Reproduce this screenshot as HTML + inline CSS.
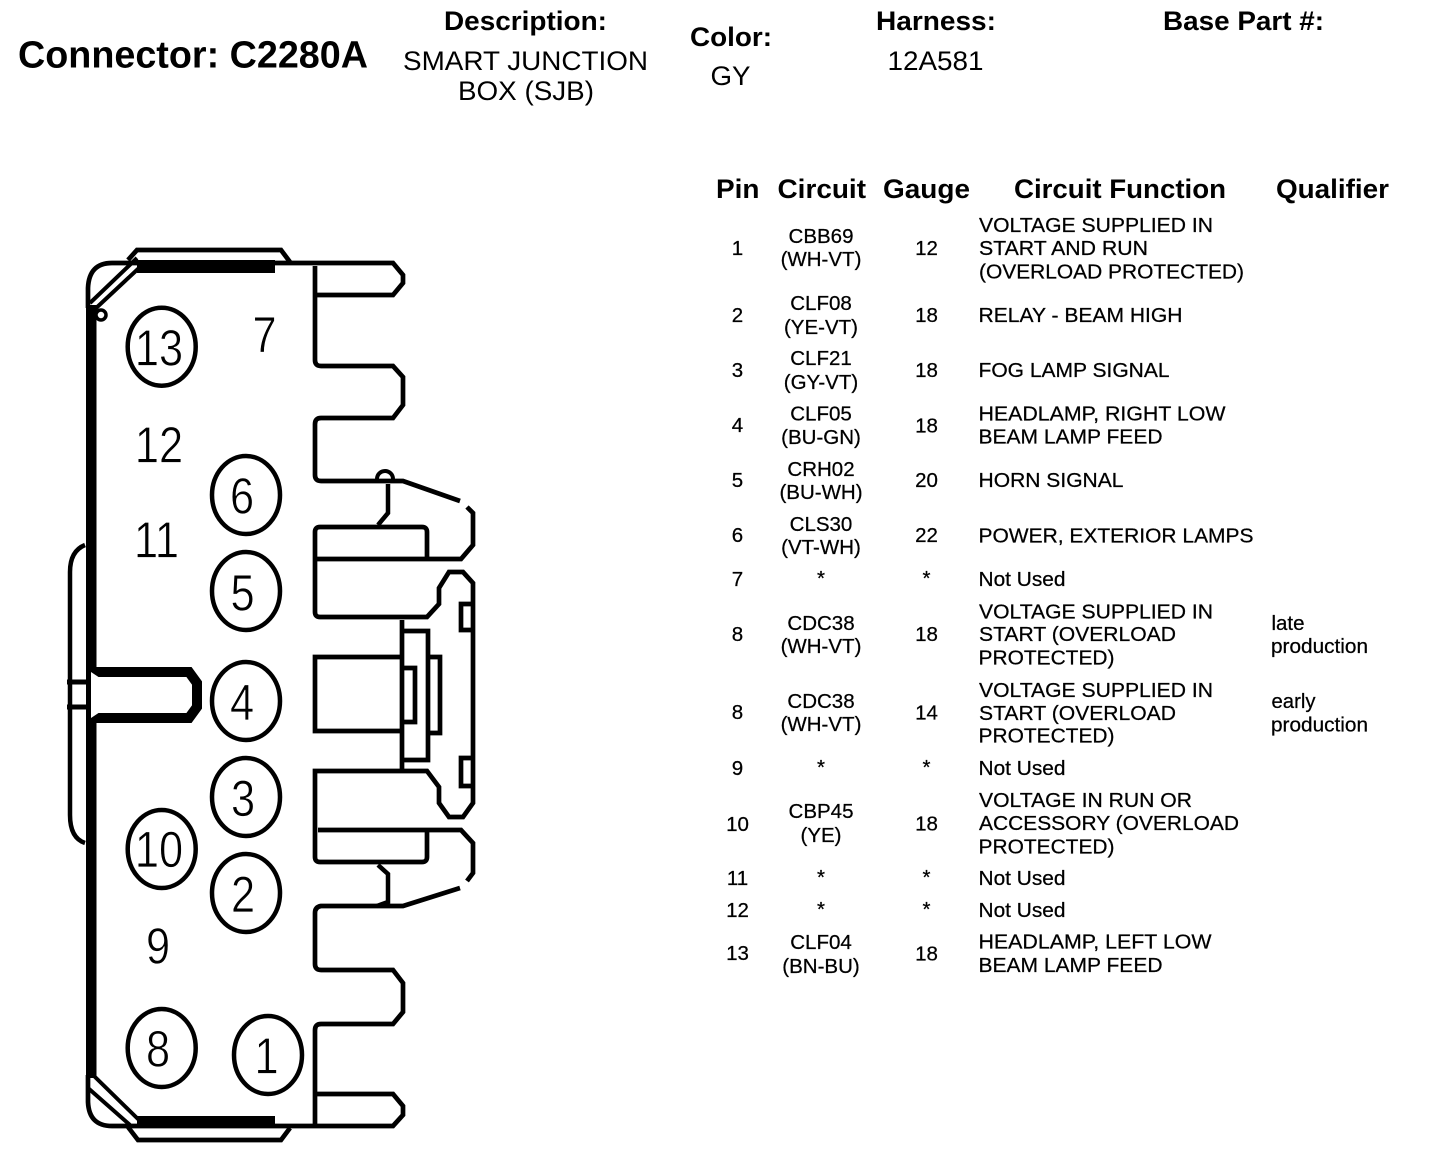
<!DOCTYPE html>
<html lang="en">
<head>
<meta charset="utf-8">
<title>Connector C2280A</title>
<style>
html,body{margin:0;padding:0;background:#fff;width:1440px;height:1158px;overflow:hidden}
svg{display:block}
text{font-family:"Liberation Sans",Arial,sans-serif;fill:#000}
.h{font-weight:700;font-size:27px}
.v{font-size:27px}
.t{font-size:20.5px;stroke:#000;stroke-width:.25px}
.m{text-anchor:middle}
.d{font-size:51px;text-anchor:middle;stroke:#fff;stroke-width:.7px}
.l{fill:none;stroke:#000;stroke-width:4.7;stroke-linejoin:miter}
.c{fill:none;stroke:#000;stroke-width:4.5}
</style>
</head>
<body>
<svg xmlns="http://www.w3.org/2000/svg" width="1440" height="1158" viewBox="0 0 1440 1158">
<rect width="1440" height="1158" fill="#fff"/>

<!-- Header -->
<text x="18" y="67.5" font-size="38" font-weight="700" textLength="350" lengthAdjust="spacingAndGlyphs">Connector: C2280A</text>
<text class="h" x="444" y="30" textLength="163" lengthAdjust="spacingAndGlyphs">Description:</text>
<text class="v" x="403" y="70" textLength="245" lengthAdjust="spacingAndGlyphs">SMART JUNCTION</text>
<text class="v" x="458" y="100" textLength="136" lengthAdjust="spacingAndGlyphs">BOX (SJB)</text>
<text class="h" x="690" y="46" textLength="82" lengthAdjust="spacingAndGlyphs">Color:</text>
<text class="v" x="710.500" y="85" textLength="40" lengthAdjust="spacingAndGlyphs">GY</text>
<text class="h" x="876" y="30" textLength="120" lengthAdjust="spacingAndGlyphs">Harness:</text>
<text class="v" x="887.500" y="70" textLength="96" lengthAdjust="spacingAndGlyphs">12A581</text>
<text class="h" x="1163" y="30" textLength="161" lengthAdjust="spacingAndGlyphs">Base Part #:</text>

<!-- Table header -->
<text class="h" x="716" y="198" textLength="43.500" lengthAdjust="spacingAndGlyphs">Pin</text>
<text class="h" x="777.500" y="198" textLength="88.500" lengthAdjust="spacingAndGlyphs">Circuit</text>
<text class="h" x="883" y="198" textLength="87" lengthAdjust="spacingAndGlyphs">Gauge</text>
<text class="h" x="1014" y="198" textLength="212" lengthAdjust="spacingAndGlyphs">Circuit Function</text>
<text class="h" x="1276" y="198" textLength="113" lengthAdjust="spacingAndGlyphs">Qualifier</text>

<!-- Pin column -->
<text class="t m" x="737.500" y="255">1</text>
<text class="t m" x="737.500" y="322">2</text>
<text class="t m" x="737.500" y="377">3</text>
<text class="t m" x="737.500" y="432">4</text>
<text class="t m" x="737.500" y="487">5</text>
<text class="t m" x="737.500" y="542">6</text>
<text class="t m" x="737.500" y="586">7</text>
<text class="t m" x="737.500" y="641">8</text>
<text class="t m" x="737.500" y="719">8</text>
<text class="t m" x="737.500" y="775">9</text>
<text class="t m" x="737.500" y="831">10</text>
<text class="t m" x="737.500" y="885">11</text>
<text class="t m" x="737.500" y="917">12</text>
<text class="t m" x="737.500" y="960">13</text>

<!-- Circuit column -->
<text class="t m" x="821" y="243">CBB69</text>
<text class="t m" x="821" y="266">(WH-VT)</text>
<text class="t m" x="821" y="310">CLF08</text>
<text class="t m" x="821" y="334">(YE-VT)</text>
<text class="t m" x="821" y="365">CLF21</text>
<text class="t m" x="821" y="389">(GY-VT)</text>
<text class="t m" x="821" y="420.500">CLF05</text>
<text class="t m" x="821" y="444">(BU-GN)</text>
<text class="t m" x="821" y="476">CRH02</text>
<text class="t m" x="821" y="499">(BU-WH)</text>
<text class="t m" x="821" y="531">CLS30</text>
<text class="t m" x="821" y="554">(VT-WH)</text>
<text class="t m" x="821" y="585">*</text>
<text class="t m" x="821" y="630">CDC38</text>
<text class="t m" x="821" y="653">(WH-VT)</text>
<text class="t m" x="821" y="708">CDC38</text>
<text class="t m" x="821" y="731">(WH-VT)</text>
<text class="t m" x="821" y="774">*</text>
<text class="t m" x="821" y="818">CBP45</text>
<text class="t m" x="821" y="842">(YE)</text>
<text class="t m" x="821" y="884">*</text>
<text class="t m" x="821" y="916">*</text>
<text class="t m" x="821" y="949">CLF04</text>
<text class="t m" x="821" y="973">(BN-BU)</text>

<!-- Gauge column -->
<text class="t m" x="926.500" y="255">12</text>
<text class="t m" x="926.500" y="322">18</text>
<text class="t m" x="926.500" y="377">18</text>
<text class="t m" x="926.500" y="432.500">18</text>
<text class="t m" x="926.500" y="487">20</text>
<text class="t m" x="926.500" y="542">22</text>
<text class="t m" x="926.500" y="585">*</text>
<text class="t m" x="926.500" y="641">18</text>
<text class="t m" x="926.500" y="719.500">14</text>
<text class="t m" x="926.500" y="774">*</text>
<text class="t m" x="926.500" y="830.500">18</text>
<text class="t m" x="926.500" y="884">*</text>
<text class="t m" x="926.500" y="916">*</text>
<text class="t m" x="926.500" y="960.500">18</text>

<!-- Function column -->
<text class="t" x="979" y="232" textLength="234" lengthAdjust="spacingAndGlyphs">VOLTAGE SUPPLIED IN</text>
<text class="t" x="979" y="255" textLength="169" lengthAdjust="spacingAndGlyphs">START AND RUN</text>
<text class="t" x="979" y="278.500" textLength="265" lengthAdjust="spacingAndGlyphs">(OVERLOAD PROTECTED)</text>
<text class="t" x="978.500" y="322" textLength="204" lengthAdjust="spacingAndGlyphs">RELAY - BEAM HIGH</text>
<text class="t" x="978.500" y="377" textLength="191" lengthAdjust="spacingAndGlyphs">FOG LAMP SIGNAL</text>
<text class="t" x="978.500" y="420.500" textLength="247" lengthAdjust="spacingAndGlyphs">HEADLAMP, RIGHT LOW</text>
<text class="t" x="978.500" y="443.500" textLength="184" lengthAdjust="spacingAndGlyphs">BEAM LAMP FEED</text>
<text class="t" x="978.500" y="487" textLength="145" lengthAdjust="spacingAndGlyphs">HORN SIGNAL</text>
<text class="t" x="978.500" y="542.500" textLength="275" lengthAdjust="spacingAndGlyphs">POWER, EXTERIOR LAMPS</text>
<text class="t" x="978.500" y="586" textLength="87" lengthAdjust="spacingAndGlyphs">Not Used</text>
<text class="t" x="979" y="618.500" textLength="234" lengthAdjust="spacingAndGlyphs">VOLTAGE SUPPLIED IN</text>
<text class="t" x="979" y="641" textLength="197" lengthAdjust="spacingAndGlyphs">START (OVERLOAD</text>
<text class="t" x="978.500" y="664.500" textLength="136" lengthAdjust="spacingAndGlyphs">PROTECTED)</text>
<text class="t" x="979" y="697" textLength="234" lengthAdjust="spacingAndGlyphs">VOLTAGE SUPPLIED IN</text>
<text class="t" x="979" y="720" textLength="197" lengthAdjust="spacingAndGlyphs">START (OVERLOAD</text>
<text class="t" x="978.500" y="742.500" textLength="136" lengthAdjust="spacingAndGlyphs">PROTECTED)</text>
<text class="t" x="978.500" y="775" textLength="87" lengthAdjust="spacingAndGlyphs">Not Used</text>
<text class="t" x="979" y="807" textLength="213" lengthAdjust="spacingAndGlyphs">VOLTAGE IN RUN OR</text>
<text class="t" x="979" y="830" textLength="260" lengthAdjust="spacingAndGlyphs">ACCESSORY (OVERLOAD</text>
<text class="t" x="978.500" y="853.500" textLength="136" lengthAdjust="spacingAndGlyphs">PROTECTED)</text>
<text class="t" x="978.500" y="885" textLength="87" lengthAdjust="spacingAndGlyphs">Not Used</text>
<text class="t" x="978.500" y="917" textLength="87" lengthAdjust="spacingAndGlyphs">Not Used</text>
<text class="t" x="978.500" y="948.500" textLength="233" lengthAdjust="spacingAndGlyphs">HEADLAMP, LEFT LOW</text>
<text class="t" x="978.500" y="972" textLength="184" lengthAdjust="spacingAndGlyphs">BEAM LAMP FEED</text>

<!-- Qualifier -->
<text class="t" x="1271.500" y="630" textLength="33" lengthAdjust="spacingAndGlyphs">late</text>
<text class="t" x="1271" y="653" textLength="97" lengthAdjust="spacingAndGlyphs">production</text>
<text class="t" x="1271.500" y="708" textLength="44" lengthAdjust="spacingAndGlyphs">early</text>
<text class="t" x="1271" y="731.500" textLength="97" lengthAdjust="spacingAndGlyphs">production</text>

<!-- Connector outline: top tabs -->
<path class="l" d="M88 308 V288 Q89 263 112 263 H393 L403 275 V283 L393 295 H315 M315 266 V360 Q315 366 321 366 H393 L403 377 V405 L393 418 H321 Q315 418 315 424 V475 Q315 481 321 481 H403 L460 501"/>
<path class="l" d="M467 507 L473 513 V545 L461 559 H316"/>
<!-- top cap band -->
<path class="l" d="M128 260 L137 250 H281 L290 262"/>
<rect x="137" y="260" width="138" height="13"/>
<path class="l" style="stroke-width:4" d="M137 258 L90 303 M139 268 L94 310"/>
<circle cx="101" cy="315" r="5" fill="#fff" stroke="#000" stroke-width="3.500"/>

<!-- upper connector detail -->
<path class="c" style="stroke-width:4" d="M377 479 A8 8 0 1 1 393 479"/>
<path class="l" style="stroke-width:4.500" d="M388 484 V513 L378 525"/>
<path class="l" d="M427 559 V532 Q427 527 422 527 H320 Q315 527 315 532 V612 Q315 617 320 617 H427 L439 604 V588 L449 572 H463 L473 583 V803 L463 817 H449 L439 803 V787 L427 771 H315 V857 Q315 862 320 862 H422 Q427 862 427 857 V830"/>
<path class="l" d="M318 830 H461 L473 843 V873 L467 881"/>
<path class="l" d="M460 888 L403 906 H321 Q315 907 315 913 V964 Q315 970 321 970 H393 L403 983 V1012 L393 1024 H321 Q315 1024 315 1030 V1124"/>
<path class="l" style="stroke-width:4.500" d="M378 865 L388 874 V902 L377 906"/>

<!-- latch centre -->
<path class="l" d="M402 620 V770"/>
<path class="l" d="M402 657 H315 V731 H402"/>
<path class="l" d="M404 631 H428 V760 H404"/>
<path class="l" d="M428 657 H440 V733 H428"/>
<path class="l" d="M404 668 H415 V722 H404"/>
<path class="l" d="M473 604 H461 V630 H473 M473 758 H461 V786 H473"/>

<!-- bottom -->
<path class="l" d="M315 1094 H393 L403 1106 V1115 L393 1126 H112 Q89 1126 88 1102 V1075"/>
<path class="l" d="M128 1127 L138 1140 H281 L290 1128"/>
<rect x="137" y="1116" width="138" height="12"/>
<path class="l" style="stroke-width:4" d="M93 1075 L139 1120 M88 1088 L130 1125"/>

<!-- left thick wall -->
<rect x="86" y="305" width="10.500" height="773"/>
<path class="l" style="stroke-width:4.500" d="M85 545 Q70 551 70 572 V815 Q70 838 85 843"/>
<path class="l" style="stroke-width:5" d="M67 682 H88 M67 707 H88"/>
<!-- T stem -->
<path class="l" style="stroke-width:10" d="M96 672 H189 L197 683 V707 L189 718 H96"/>
<polygon points="91,672 100,678 100,712 91,718" fill="#fff"/>

<!-- cavity circles -->
<ellipse class="c" cx="161.700" cy="346.700" rx="34" ry="39"/>
<ellipse class="c" cx="246" cy="495" rx="34" ry="39"/>
<ellipse class="c" cx="246" cy="591" rx="34" ry="39"/>
<ellipse class="c" cx="246" cy="701" rx="34" ry="39"/>
<ellipse class="c" cx="246" cy="797" rx="34" ry="39"/>
<ellipse class="c" cx="161.700" cy="849" rx="34" ry="39"/>
<ellipse class="c" cx="246" cy="893" rx="34" ry="39"/>
<ellipse class="c" cx="161.700" cy="1048" rx="34" ry="39"/>
<ellipse class="c" cx="268" cy="1055" rx="34" ry="39"/>

<!-- cavity numbers -->
<text class="d" transform="translate(159,365.500) scale(.85,1)">13</text>
<text class="d" transform="translate(264.500,352.500) scale(.85,1)">7</text>
<text class="d" transform="translate(159,462.500) scale(.85,1)">12</text>
<text class="d" transform="translate(156.500,557.500) scale(.85,1)">11</text>
<text class="d" transform="translate(242,513.500) scale(.85,1)">6</text>
<text class="d" transform="translate(242.500,610.500) scale(.85,1)">5</text>
<text class="d" transform="translate(242,720) scale(.85,1)">4</text>
<text class="d" transform="translate(243,816) scale(.85,1)">3</text>
<text class="d" transform="translate(159,867) scale(.85,1)">10</text>
<text class="d" transform="translate(243,912) scale(.85,1)">2</text>
<text class="d" transform="translate(158,963.500) scale(.85,1)">9</text>
<text class="d" transform="translate(158,1066.500) scale(.85,1)">8</text>
<text class="d" transform="translate(266.500,1073.500) scale(.85,1)">1</text>
</svg>
</body>
</html>
